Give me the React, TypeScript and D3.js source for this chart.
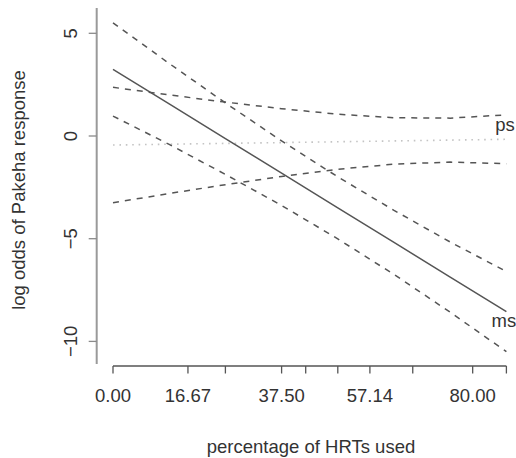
import React from "react";
import * as d3 from "d3";

const xGrid = [0, 12.5, 25, 37.5, 50, 62.5, 75, 87.5];
const msFit = [3.24, 1.56, -0.13, -1.81, -3.5, -5.18, -6.87, -8.55];
const msUpper = [5.51, 3.53, 1.61, -0.24, -1.99, -3.62, -5.16, -6.6];
const msLower = [0.97, -0.41, -1.87, -3.38, -5.01, -6.74, -8.58, -10.5];
const psFit = [-0.44, -0.4, -0.36, -0.32, -0.28, -0.24, -0.2, -0.16];
const psUpper = [2.37, 2.0, 1.65, 1.33, 1.06, 0.89, 0.87, 1.03];
const psLower = [-3.25, -2.8, -2.37, -1.97, -1.62, -1.37, -1.27, -1.35];

const xTicks = [0, 16.67, 25, 37.5, 42.86, 50, 57.14, 66.67, 80, 87.5];
const xLabelTicks = [0, 16.67, 37.5, 57.14, 80];
const yTicks = [5, 0, -5, -10];

const xTitle = "percentage of HRTs used";
const yTitle = "log odds of Pakeha response";

export default function App() {
  const W = 516, H = 458;
  const x = d3.scaleLinear().domain([0, 87.5]).range([113, 506.4]);
  const y = d3.scaleLinear().domain([0, 5]).range([136, 33.3]);
  const line = (ys: number[]) =>
    d3.line<number>().x((_, i) => x(xGrid[i])).y((d) => y(d))(ys) || "";
  const font = "'Liberation Sans', Arial, Helvetica, sans-serif";
  const fs = 18.5;
  const axisY = 366;
  const axisX = 96.7;
  return (
    <svg width={W} height={H} style={{ position: "absolute", left: 0, top: 0, background: "#fff" }} fontFamily={font}>
      {/* y axis */}
      <line x1={axisX} x2={axisX} y1={8} y2={364} stroke="#9a9a9a" strokeWidth={2} />
      {yTicks.map((t) => (
        <g key={t}>
          <line x1={axisX - 8} x2={axisX} y1={y(t)} y2={y(t)} stroke="#8a8a8a" strokeWidth={1.3} />
          <text transform={`translate(77,${y(t)}) rotate(-90)`} textAnchor="middle" fontSize={fs} fill="#333">
            {t < 0 ? "\u2212" + Math.abs(t) : String(t)}
          </text>
        </g>
      ))}
      {/* x axis */}
      <line x1={x(0)} x2={x(87.5)} y1={axisY} y2={axisY} stroke="#555" strokeWidth={1.3} />
      {xTicks.map((t) => (
        <line key={t} x1={x(t)} x2={x(t)} y1={axisY} y2={axisY + 7.5} stroke="#555" strokeWidth={1.3} />
      ))}
      {xLabelTicks.map((t) => (
        <text key={t} x={x(t)} y={401.5} textAnchor="middle" fontSize={fs} fill="#333">
          {t.toFixed(2)}
        </text>
      ))}
      <text x={311} y={453} textAnchor="middle" fontSize={fs} fill="#333">{xTitle}</text>
      <text transform={`translate(25,190) rotate(-90)`} textAnchor="middle" fontSize={fs} fill="#333">{yTitle}</text>
      {/* ps */}
      <path d={line(psFit)} fill="none" stroke="#c4c4c4" strokeWidth={1.6} strokeDasharray="1.6,4.8" />
      <path d={line(psUpper)} fill="none" stroke="#555" strokeWidth={1.5} strokeDasharray="6,6" />
      <path d={line(psLower)} fill="none" stroke="#555" strokeWidth={1.5} strokeDasharray="6,6" />
      {/* ms */}
      <path d={line(msFit)} fill="none" stroke="#555" strokeWidth={1.5} />
      <path d={line(msUpper)} fill="none" stroke="#555" strokeWidth={1.5} strokeDasharray="6,6" />
      <path d={line(msLower)} fill="none" stroke="#555" strokeWidth={1.5} strokeDasharray="6,6" />
      <text x={x(87.5) - 1.5} y={y(0.23)} textAnchor="middle" fontSize={fs} fill="#333">ps</text>
      <text x={x(87.5) - 2.5} y={y(-9.28)} textAnchor="middle" fontSize={fs} fill="#333">ms</text>
    </svg>
  );
}
